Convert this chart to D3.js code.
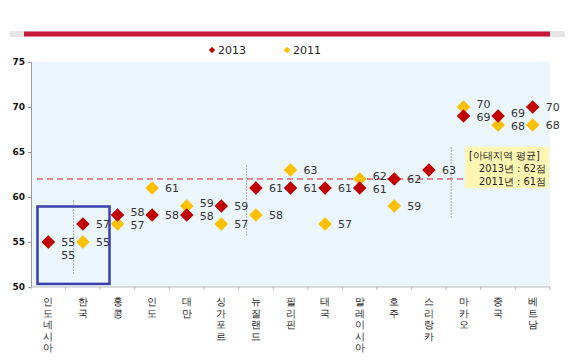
<!DOCTYPE html>
<html>
<head>
<meta http-equiv="Content-Type" content="text/html;charset=utf-8">
<script src="https://cdn.jsdelivr.net/npm/d3@7"></script>
<style>
  body { margin: 0; background: #fff; }
  text { font-family: "DejaVu Sans", Verdana, sans-serif; }
</style>
</head>
<body>
<div id="chart"></div>
<script>
// data
var countries = ["인도네시아", "한국", "홍콩", "인도", "대만", "싱가포르", "뉴질랜드", "필리핀",
                 "태국", "말레이시아", "호주", "스리랑카", "마카오", "중국", "베트남"];
var score2013 = [55, 57, 58, 58, 58, 59, 61, 61, 61, 61, 62, 63, 69, 69, 70];
var score2011 = [55, 55, 57, 61, 59, 57, 58, 63, 57, 62, 59, null, 70, 68, 68];
var yTicks = [50, 55, 60, 65, 70, 75];
var avg2013 = 62, avg2011 = 61;
var seriesNames = ["2013", "2011"];
var calloutLines = ["[아태지역 평균]", "2013년 : " + avg2013 + "점", "2011년 : " + avg2011 + "점"];

var W = 580, H = 363;
var red = "#c00000", gold = "#ffc000";

var svg = d3.select("#chart").append("svg")
    .attr("width", W)
    .attr("height", H);

var x = d3.scaleBand().domain(countries).range([31, 550]);
var y = d3.scaleLinear().domain([50, 75]).range([287, 62]);

// header bar
svg.append("rect").attr("x", 10).attr("y", 31).attr("width", 555).attr("height", 6).attr("fill", "#e6e6e6");
svg.append("rect").attr("x", 24).attr("y", 31.5).attr("width", 526).attr("height", 5).attr("fill", "#c8173a");

// plot background
svg.append("rect")
    .attr("x", x.range()[0] + 1).attr("y", y(75))
    .attr("width", x.range()[1] - x.range()[0] - 1).attr("height", y(50) - y(75))
    .attr("fill", "#eaf5fc");

// legend
var legend = svg.append("g");
[[212, red, seriesNames[0]], [287, gold, seriesNames[1]]].forEach(function (l) {
  legend.append("path")
      .attr("d", d3.symbol(d3.symbolSquare, 20)())
      .attr("transform", "translate(" + l[0] + ",50) rotate(45)")
      .attr("fill", l[1]);
  legend.append("text").attr("x", l[0] + 6).attr("y", 54)
      .attr("font-size", 11).attr("fill", "#222").text(l[2]);
});

// y axis
var yAxis = svg.append("g")
    .attr("transform", "translate(31,0)")
    .call(d3.axisLeft(y).tickValues(yTicks).tickSize(3).tickPadding(3));
yAxis.select(".domain").attr("stroke", "#999");
yAxis.selectAll(".tick line").attr("stroke", "#999");
yAxis.selectAll("text").attr("font-size", 9).attr("font-weight", "bold").attr("fill", "#111")
    .attr("font-family", "DejaVu Sans");

// x axis
var xAxis = svg.append("g").attr("transform", "translate(0," + y(50) + ")");
xAxis.append("line").attr("x1", 31).attr("x2", 550).attr("stroke", "#bbb");
xAxis.selectAll(".tk").data(countries.concat(["end"])).enter().append("line")
    .attr("x1", function (d, i) { return 31 + i * x.bandwidth(); })
    .attr("x2", function (d, i) { return 31 + i * x.bandwidth(); })
    .attr("y1", 0).attr("y2", 3).attr("stroke", "#bbb");

var xl = svg.append("g");
countries.forEach(function (c) {
  var t = xl.append("text")
      .attr("text-anchor", "middle")
      .attr("font-size", 10)
      .attr("font-family", "Noto Sans CJK KR")
      .attr("fill", "#222");
  c.split("").forEach(function (ch, k) {
    t.append("tspan")
        .attr("x", x(c) + x.bandwidth() / 2)
        .attr("y", 305 + k * 11.5)
        .text(ch);
  });
});

// average line
svg.append("line")
    .attr("x1", 37).attr("x2", 465)
    .attr("y1", y(avg2013)).attr("y2", y(avg2013))
    .attr("stroke", "#e0676a").attr("stroke-width", 1.3)
    .attr("stroke-dasharray", "6,4");

// dotted separators
[[1, 8, 59.6, 51.4], [6, 8, 63.5, 55.5], [12, 5, 65.5, 57.5]].forEach(function (s) {
  var sx = x(countries[s[0]]) + s[1];
  svg.append("line")
      .attr("x1", sx).attr("x2", sx)
      .attr("y1", y(s[2])).attr("y2", y(s[3]))
      .attr("stroke", "#5a6e8c").attr("stroke-width", 1)
      .attr("stroke-dasharray", "1,2");
});

// highlight box round 인도네시아 / 한국
svg.append("rect")
    .attr("x", 37.5).attr("y", y(59) + 0.5)
    .attr("width", 72).attr("height", y(50.4) - y(59))
    .attr("fill", "none").attr("stroke", "#3a3fae").attr("stroke-width", 2.5);

// points
var pts = countries.map(function (c, i) {
  return { c: c, v13: score2013[i], v11: score2011[i] };
});
var diamond = d3.symbol(d3.symbolSquare, 92)();
var cx = function (d) { return x(d.c) + x.bandwidth() / 2; };

svg.append("g").selectAll("path")
    .data(pts.filter(function (d) { return d.v11 != null; }))
    .enter().append("path")
    .attr("d", diamond)
    .attr("transform", function (d) { return "translate(" + cx(d) + "," + y(d.v11) + ") rotate(45)"; })
    .attr("fill", gold);

svg.append("g").selectAll("path")
    .data(pts)
    .enter().append("path")
    .attr("d", diamond)
    .attr("transform", function (d) { return "translate(" + cx(d) + "," + y(d.v13) + ") rotate(45)"; })
    .attr("fill", red);

// value labels
var lab = svg.append("g").attr("font-size", 11).attr("fill", "#333");
pts.forEach(function (d) {
  var off13 = 0, off11 = 0;
  if (d.v11 != null) {
    if (d.v11 === d.v13) off11 = 13;
    else if (Math.abs(d.v11 - d.v13) === 1) {
      if (d.v13 > d.v11) { off13 = -3; off11 = 1; } else { off11 = -3; off13 = 1; }
    }
  }
  lab.append("text").attr("x", cx(d) + 13).attr("y", y(d.v13) + off13 + 4).text(d.v13);
  if (d.v11 != null)
    lab.append("text").attr("x", cx(d) + 13).attr("y", y(d.v11) + off11 + 4).text(d.v11);
});

// callout
var co = svg.append("g");
co.append("rect").attr("x", 465).attr("y", 147).attr("width", 84).attr("height", 41)
    .attr("fill", "#fff6b4");
calloutLines.forEach(function (s, i) {
  co.append("text")
      .attr("x", i === 0 ? 469 : 479)
      .attr("y", 159 + i * 13)
      .attr("font-size", 9.8)
      .attr("font-family", "Noto Sans CJK KR")
      .attr("fill", "#222")
      .text(s);
});
</script>
</body>
</html>
